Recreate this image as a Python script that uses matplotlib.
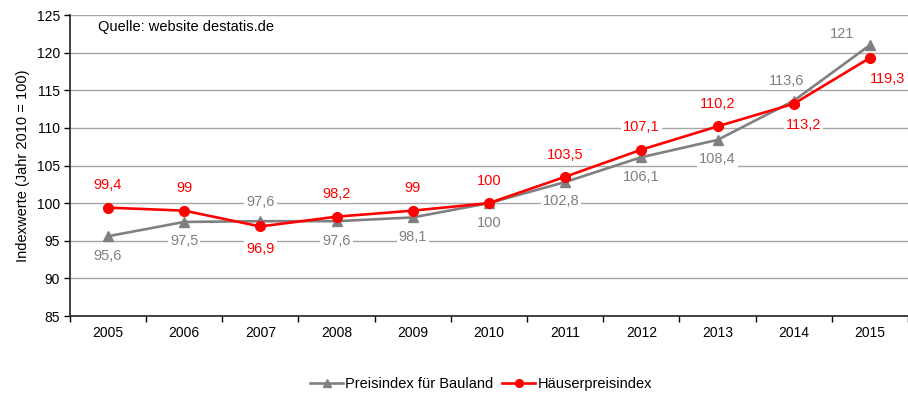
import matplotlib.pyplot as plt
import numpy as np

plt.rcParams['font.family'] = ['Liberation Sans', 'DejaVu Sans']

years = ["2005", "2006", "2007", "2008", "2009", "2010", "2011", "2012", "2013", "2014", "2015"]
bauland = [95.6, 97.5, 97.6, 97.6, 98.1, 100, 102.8, 106.1, 108.4, 113.6, 121]
haeuser = [99.4, 99, 96.9, 98.2, 99, 100, 103.5, 107.1, 110.2, 113.2, 119.3]

# Versatz der Beschriftungen in Punkten (dx, dy)
bauland_off = [(0, -14), (0, -14), (0, 14), (0, -14), (0, -14), (0, -14),
               (-3, -14), (0, -14), (0, -14), (-5, 14), (-20, 8)]
haeuser_off = [(0, 16), (0, 16), (0, -16), (0, 16), (0, 16), (0, 16),
               (0, 16), (0, 16), (0, 16), (7, -15), (13, -15)]

GREY = "#808080"
RED = "#ff0000"


def fmt(v):
    s = f"{v:.1f}".replace(".", ",")
    return s[:-2] if s.endswith(",0") else s


fig = plt.figure(figsize=(9.08, 4.0), dpi=100)
ax = fig.add_axes([0.077, 0.21, 0.923, 0.7525])

x = np.arange(len(years))
ax.plot(x, bauland, color=GREY, lw=1.9, marker="^", ms=7, zorder=4, label="Preisindex für Bauland")
ax.plot(x, haeuser, color=RED, lw=1.9, marker="o", ms=7, zorder=5, label="Häuserpreisindex")

for xi, v, off in zip(x, bauland, bauland_off):
    ax.annotate(fmt(v), (xi, v), xytext=off, textcoords="offset points",
                ha="center", va="center", fontsize=10.5, color=GREY, zorder=3,
                bbox=dict(facecolor="white", edgecolor="none", pad=1.5))
for xi, v, off in zip(x, haeuser, haeuser_off):
    ax.annotate(fmt(v), (xi, v), xytext=off, textcoords="offset points",
                ha="center", va="center", fontsize=10.5, color=RED, zorder=3,
                bbox=dict(facecolor="white", edgecolor="none", pad=1.5))

ax.set_xlim(-0.5, len(years) - 0.5)
ax.set_ylim(85, 125)
ax.set_yticks(range(85, 126, 5))
ax.set_xticks(x)
ax.set_xticklabels(years)
ax.set_xticks(np.arange(-0.5, len(years), 1), minor=True)
ax.tick_params(axis="x", which="major", length=0, pad=7, labelsize=10)
ax.tick_params(axis="x", which="minor", length=4, direction="out", width=1)
ax.tick_params(axis="y", length=4, direction="out", labelsize=10, width=1, pad=3)

ax.grid(axis="y", color="#a6a6a6", lw=1, zorder=0)
ax.set_axisbelow(True)
for s in ["top", "right"]:
    ax.spines[s].set_visible(False)
ax.spines["left"].set_color("#222222")
ax.spines["bottom"].set_color("#222222")
ax.spines["left"].set_linewidth(1.2)
ax.spines["bottom"].set_linewidth(1.2)

ax.set_ylabel("Indexwerte (Jahr 2010 = 100)", fontsize=10.5, labelpad=5)
ax.text(0.034, 0.96, "Quelle: website destatis.de", transform=ax.transAxes,
        fontsize=10.5, ha="left", va="center")

fig.legend(loc="lower center", bbox_to_anchor=(0.53, -0.01), ncol=2, frameon=False,
           fontsize=10.5, handlelength=2.2, columnspacing=0.6, handletextpad=0.2,
           markerscale=0.8)

fig.savefig("out.png", dpi=100)
